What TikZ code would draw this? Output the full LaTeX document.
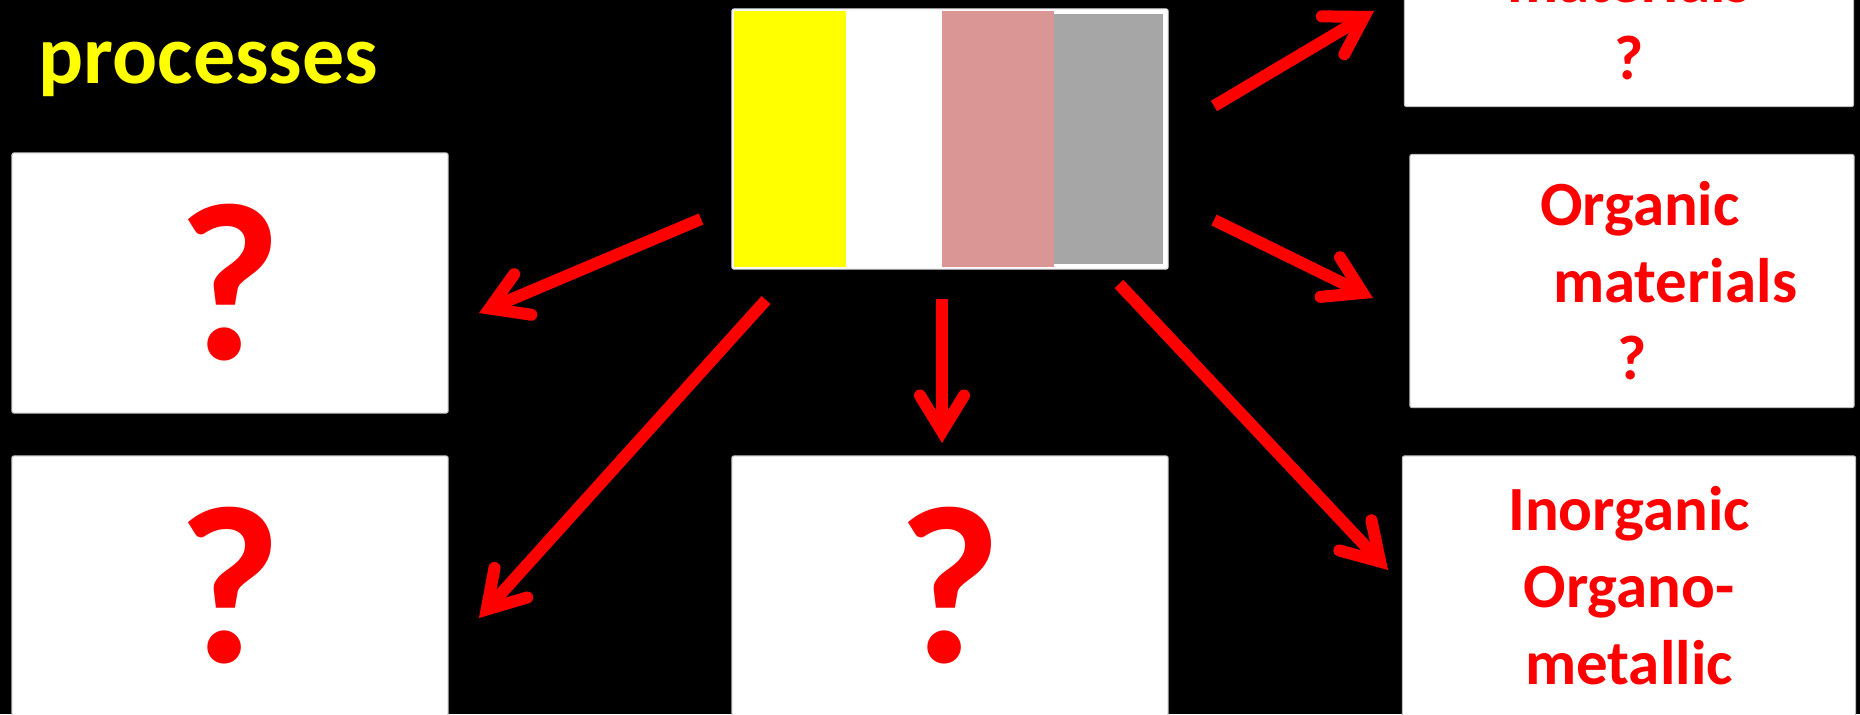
\documentclass[tikz,border=0pt]{standalone}
\usepackage{fontspec}
\setmainfont{Carlito}
\usepackage{tikz}
\usetikzlibrary{arrows.meta, positioning}
\definecolor{cRed}{RGB}{255,0,0}
\definecolor{cYellow}{RGB}{255,255,0}
\definecolor{cPink}{RGB}{217,150,148}
\definecolor{cGrey}{RGB}{166,166,166}
\tikzset{
	card/.style  ={rectangle, rounded corners=0.02cm, draw=black!25, line width=0.3pt, fill=white, inner sep=0pt, minimum width=4.36cm, minimum height=2.6cm, text=cRed, align=center, font=\bfseries\fontsize{17.9}{21.9}\selectfont},
	bigq/.style  ={font=\bfseries\fontsize{64}{70}\selectfont},
	lbl/.style   ={inner sep=0pt, text=cRed, font=\bfseries\fontsize{17.9}{21.9}\selectfont},
	ptr/.style   ={cRed, line width=0.12cm, -{Straight Barb[length=0.36cm, width=0.44cm, line cap=round, line join=miter]}},
}

\begin{document}
\begin{tikzpicture}[x=0.01cm, y=-0.01cm]
	\fill[black] (0,0) rectangle (1860,714);
	\useasboundingbox (0,0) rectangle (1860,714);
	% title
	\node[inner sep=0pt, anchor=base west, text=cYellow, font=\bfseries\fontsize{23.9}{28}\selectfont] (ttl) at (38,83) {processes};
	% sample
	\node[card, draw=black!15] (img) at (950,139) {};
	\fill[cYellow] (734,11) rectangle (846,267);
	\fill[cPink] (942,11) rectangle (1054,267);
	\fill[cGrey] (1054,14) rectangle (1163,264);
	% boxes
	\node[card, bigq] (tl) at (230,283) {?};
	\node[card, bigq] (bl) at (230,586) {?};
	\node[card, bigq] (bm) at (950,586) {?};
	\node[card, minimum width=4.49cm, minimum height=2.57cm] (tr) at (1629,-22) {};
	\node[lbl, anchor=base] (trm) at (1629,2) {materials};
	\node[lbl, anchor=base] (trq) at (1629,79) {?};
	\node[card, minimum width=4.44cm, minimum height=2.53cm] (mr) at (1632,281) {\hspace*{4.5pt}Organic\\\hspace*{24.5pt}materials\\?};
	\node[card, minimum width=4.53cm] (br) at (1629,586) {Inorganic\\Organo-\\metallic};
	% arrows
	\coordinate (s1) at (1214,106);  \coordinate (e1) at (1374,11);
	\coordinate (s2) at (1214,220);  \coordinate (e2) at (1373,298);
	\coordinate (s3) at (1119,284);  \coordinate (e3) at (1388,570);
	\coordinate (s4) at (942,299);   \coordinate (e4) at (942,443);
	\coordinate (s5) at (766,300);   \coordinate (e5) at (479,618);
	\coordinate (s6) at (701,219);   \coordinate (e6) at (479,313);
	\foreach \i in {1,...,6} \draw[ptr] (s\i) -- (e\i);
\end{tikzpicture}
\end{document}
